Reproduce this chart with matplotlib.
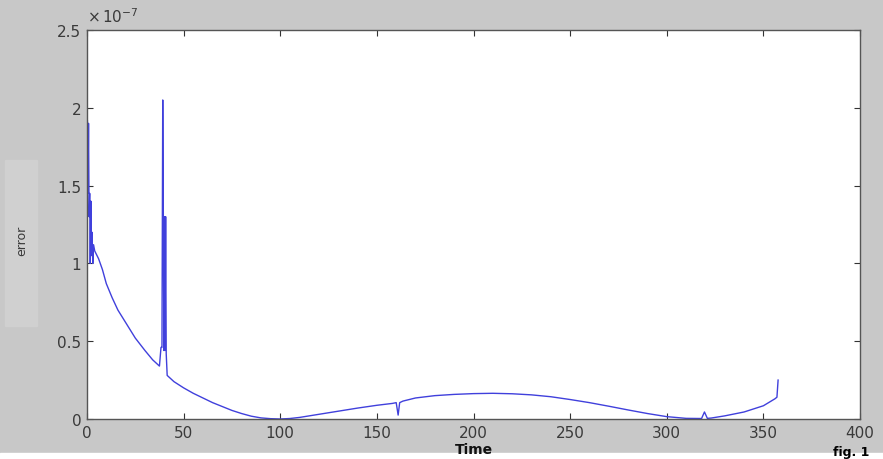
import numpy as np
import matplotlib
matplotlib.use("Agg")
import matplotlib.pyplot as plt
from matplotlib.ticker import FuncFormatter
from matplotlib.patches import Rectangle

# ------------------------------ dados ------------------------------
tempo = [0, 0.2, 0.5, 0.8, 1.1, 1.4, 1.7, 2.0, 2.3, 2.6, 3.0, 3.4, 4.0, 6, 8, 10, 13,
         16, 20, 25, 30, 34, 37.5, 38.3, 38.8, 39.2, 39.5, 39.8, 40.1, 40.4, 40.7,
         41.0, 41.5, 45, 50, 55, 60, 65, 70, 75, 80, 85, 90, 95, 100, 105, 110, 115,
         120, 130, 140, 150, 158, 160, 161, 161.8, 163.5, 170, 180, 190, 200, 210,
         220, 230, 240, 250, 260, 270, 280, 290, 300, 310, 318, 319.5, 321, 323,
         330, 340, 350, 356, 357, 357.6]
erro = [1.0, 1.92, 1.45, 1.9, 1.3, 1.45, 1.0, 1.4, 1.05, 1.2, 1.0, 1.12, 1.08, 1.03,
        0.96, 0.87, 0.78, 0.70, 0.62, 0.52, 0.44, 0.38, 0.34, 0.46, 0.46, 2.05, 1.33,
        0.44, 1.30, 0.44, 1.30, 0.42, 0.28, 0.24, 0.20, 0.165, 0.135, 0.105, 0.08,
        0.055, 0.035, 0.018, 0.007, 0.002, 0.0, 0.003, 0.01, 0.02, 0.03, 0.05, 0.07,
        0.088, 0.10, 0.105, 0.025, 0.105, 0.115, 0.135, 0.15, 0.158, 0.163, 0.165,
        0.162, 0.155, 0.143, 0.125, 0.105, 0.082, 0.058, 0.035, 0.015, 0.004, 0.003,
        0.045, 0.004, 0.006, 0.02, 0.045, 0.085, 0.13, 0.14, 0.25]  # em unidades de 1e-7

xticks = [0, 50, 100, 150, 200, 250, 300, 350, 400]
yticks = [0, 0.5, 1, 1.5, 2, 2.5]

cinza = '#c8c8c8'
texto = '#3a3a3a'

fig = plt.figure(figsize=(8.83, 4.6), dpi=100, facecolor=cinza)
# faixa um pouco mais clara na esquerda e faixa branca embaixo (recorte da imagem)
fig.patches.append(Rectangle((0.006, 0.29), 0.036, 0.36, transform=fig.transFigure,
                             color='#d0d0d0', zorder=-1))
fig.patches.append(Rectangle((0, 0), 1, 0.012, transform=fig.transFigure,
                             color='white', zorder=-1))

ax = fig.add_axes([0.0985, 0.087, 0.8755, 0.8457])
ax.plot(tempo, erro, color='#4040dc', lw=1.0)

ax.set_xlim(0, 400)
ax.set_ylim(0, 2.5)
ax.set_xticks(xticks)
ax.set_yticks(yticks)
ax.yaxis.set_major_formatter(FuncFormatter(lambda v, p: '%g' % v))

ax.tick_params(direction='in', top=True, right=True, length=4, width=0.8,
               labelsize=11, labelcolor=texto, color='#333333', pad=4)
for s in ax.spines.values():
    s.set_color('#555555')
    s.set_linewidth(1.0)

# fator de escala no estilo do MATLAB
ax.text(0.0, 1.012, r'$\times\,10^{-7}$', transform=ax.transAxes, fontsize=11,
        color=texto, ha='left', va='bottom')

ax.set_xlabel('Time', fontsize=10, fontweight='bold', color='#111111', labelpad=2)
ax.set_ylabel('error', fontsize=9, color=texto)
ax.yaxis.set_label_coords(-0.076, 0.46)

fig.text(0.985, 0.003, 'fig. 1', fontsize=9, fontweight='bold', color='black',
         ha='right', va='bottom')

fig.savefig('out.png', dpi=100, facecolor=fig.get_facecolor())
